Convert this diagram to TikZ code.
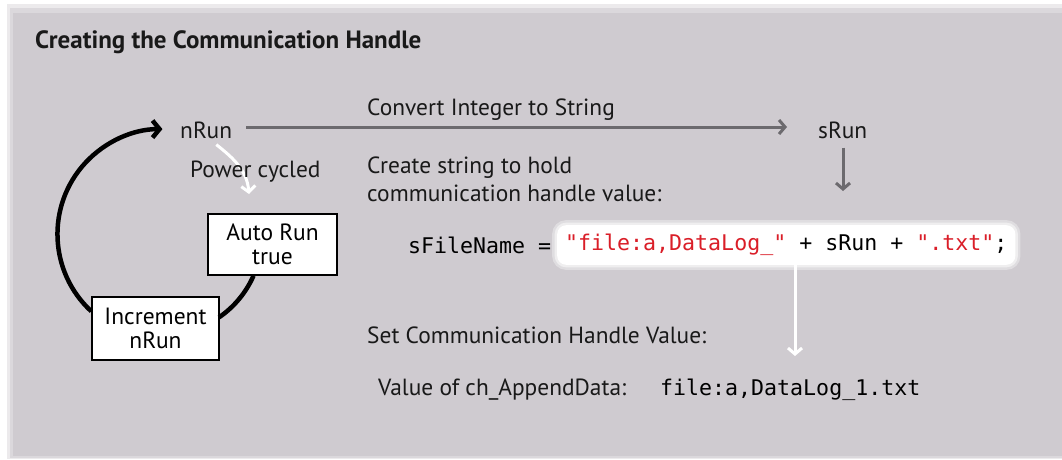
\documentclass[tikz,border=0pt]{standalone}
\usepackage{fontspec}
\setmainfont{PT Sans}
\setmonofont{DejaVu Sans Mono}
\usetikzlibrary{arrows.meta,positioning}
\definecolor{panel}{RGB}{207,203,208}
\definecolor{arrgray}{RGB}{108,106,110}
\definecolor{codered}{RGB}{218,30,40}
\tikzset{
  lbl/.style={font=\fontsize{23.4}{28}\selectfont, inner sep=0pt, anchor=west, text=black!90},
  boxnode/.style={draw=black, line width=1.5pt, fill=white, align=center, font=\fontsize{23.5}{24}\selectfont, inner xsep=4pt, inner ysep=3pt},
  code/.style={font=\ttfamily\fontsize{21.6}{25}\selectfont, inner sep=0pt, anchor=west},
  grayarrow/.style={draw=arrgray, line width=3pt, -{Straight Barb[length=6pt,width=14pt,line width=3pt]}},
  whitearrow/.style={draw=white, line width=3pt, -{Straight Barb[length=6pt,width=14pt,line width=3pt]}},
  blackarrow/.style={draw=black, line width=4.5pt, -{Straight Barb[length=7pt,width=17pt,line width=4.5pt]}},
}
\begin{document}
\begin{tikzpicture}[x=1pt,y=-1pt]
\useasboundingbox (0,0) rectangle (1062,459);
\fill[white] (0,0) rectangle (1062,459);
% panel with soft edges
\fill[panel!40] (7,4) rectangle (1062,459);
\fill[panel!75] (10,8) rectangle (1062,458);
\fill[panel] (13,13) rectangle (1062,456);

% title
\node[lbl, font=\bfseries\fontsize{25}{28}\selectfont] (title) at (35,42) {Creating the Communication Handle};

% main labels
\node[lbl] (nrun) at (180,130) {nRun};
\node[lbl] (srun) at (818,130) {sRun};
\node[lbl] (conv) at (367,110) {Convert Integer to String};
\coordinate (convend) at (787,127);
\draw[grayarrow] (nrun.east) ++(14,-3) coordinate (convstart) -- (convend);

\node[lbl, anchor=north west, align=left, font=\fontsize{23.4}{28}\selectfont] (create) at (367,157) {Create string to hold\\communication handle value:};
\coordinate (srundown) at (843,191);
\draw[grayarrow] ([yshift=-9]srun.south -| srundown) -- (srundown);

% code line
\node[code] (sfile) at (408,245) {sFileName =};
\node[code, fill=white, rounded corners=9pt, inner xsep=8pt, inner ysep=9pt,
      preaction={draw=white, line width=10pt, opacity=0.35, rounded corners=9pt},
      preaction={draw=white, line width=5pt, opacity=0.5, rounded corners=9pt}]
  (expr) at (557,245) {\textcolor{codered}{"file:a,DataLog\_"} + sRun + \textcolor{codered}{".txt"};};

\node[lbl] (setval) at (367,335) {Set Communication Handle Value:};
\coordinate (valtip) at (795,356);
\draw[whitearrow] (expr.south -| valtip) -- (valtip);

\node[lbl] (valof) at (378,390) {Value of ch\_AppendData:};
\node[code] (valcode) at (660,390) {file:a,DataLog\_1.txt};

% loop
\coordinate (pctip) at (249,194);
\draw[whitearrow] ([xshift=-16,yshift=-6]nrun.south east) to[out=-38,in=95] (pctip);
\node[lbl] (power) at (190,172) {Power cycled};

\node[boxnode, minimum width=129pt, minimum height=61pt] (auto) at (272.5,244.5) {Auto Run\\true};
\node[boxnode, minimum width=127pt, minimum height=63pt] (inc) at (155.5,328.5) {Increment\\nRun};

\draw[line width=4.5pt] ([xshift=-19]auto.south) arc[start angle=23.8, end angle=55.5, radius=99];
\draw[blackarrow] ([yshift=-15]inc.north west) arc[start angle=132.7, end angle=270, radius=105];
\end{tikzpicture}
\end{document}
